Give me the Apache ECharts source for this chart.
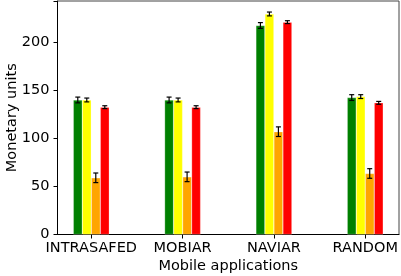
<!DOCTYPE html>
<html><head><meta charset="utf-8">
<script src="https://cdn.jsdelivr.net/npm/echarts@6/dist/echarts.min.js"></script>
<style>html,body{margin:0;padding:0;background:#fff}#c{width:401px;height:276px}</style>
</head><body><div id="c"></div>
<script>
const categories = ['INTRASAFED', 'MOBIAR', 'NAVIAR', 'RANDOM'];
const seriesNames = ['S1', 'S2', 'S3', 'S4'];
const colors = ['#008000', '#ffff00', '#ffa500', '#ff0000'];
const valuesS1 = [140, 140, 217.5, 142.5];
const valuesS2 = [140, 140, 229.5, 143.5];
const valuesS3 = [59, 60, 107, 63.5];
const valuesS4 = [132.5, 132.5, 221, 137];
const errS1 = [3, 3, 3, 3];
const errS2 = [2, 2, 2, 2];
const errS3 = [5, 5, 5, 5];
const errS4 = [1.5, 1.5, 1.5, 1.5];
const yTicks = [0, 50, 100, 150, 200];

const allValues = [valuesS1, valuesS2, valuesS3, valuesS4];
const allErr = [errS1, errS2, errS3, errS4];
const barW = 9;
const series = [];
allValues.forEach((vals, si) => {
  series.push({
    type: 'bar', name: seriesNames[si], barWidth: barW, barGap: '0%',
    itemStyle: { color: colors[si], borderColor: 'rgba(255,255,255,0.5)', borderWidth: 0.5 },
    data: vals.map((v, i) => [i, v]), z: 2
  });
});
allValues.forEach((vals, si) => {
  const off = (si - 1.5) * barW;
  series.push({
    type: 'custom', z: 5,
    data: vals.map((v, i) => [i, v, allErr[si][i]]),
    renderItem: function (params, api) {
      const x = api.value(0), y = api.value(1), e = api.value(2);
      const p1 = api.coord([x, y + e]);
      const p2 = api.coord([x, y - e]);
      const cx = p1[0] + off;
      const cap = 2.5;
      const st = { stroke: '#000', lineWidth: 1.2 };
      return { type: 'group', children: [
        { type: 'line', shape: { x1: cx, y1: p1[1], x2: cx, y2: p2[1] }, style: st },
        { type: 'line', shape: { x1: cx - cap, y1: p1[1], x2: cx + cap, y2: p1[1] }, style: st },
        { type: 'line', shape: { x1: cx - cap, y1: p2[1], x2: cx + cap, y2: p2[1] }, style: st }
      ]};
    }
  });
});

const chart = echarts.init(document.getElementById('c'));
chart.setOption({
  animation: false,
  grid: { left: 57.5, right: 2, top: 1, bottom: 41.5, show: true, borderColor: '#444', borderWidth: 1, containLabel: false, outerBoundsMode: 'none' },
  xAxis: {
    type: 'value', min: -0.37, max: 3.37,
    name: 'Mobile applications', nameLocation: 'middle', nameGap: 24, nameMoveOverlap: false,
    nameTextStyle: { fontFamily: 'DejaVu Sans', fontSize: 14.5, color: '#000' },
    axisLine: { show: true, onZero: false, lineStyle: { color: '#000' } },
    axisTick: { show: true, customValues: [0, 1, 2, 3], length: 4, lineStyle: { color: '#000' } },
    axisLabel: { customValues: [0, 1, 2, 3], formatter: v => categories[Math.round(v)], fontFamily: 'DejaVu Sans', fontSize: 14.5, color: '#000', margin: 6 },
    splitLine: { show: false }
  },
  yAxis: {
    type: 'value', min: 0, max: 243, interval: 50,
    name: 'Monetary units', nameLocation: 'middle', nameGap: 38, nameMoveOverlap: false,
    nameTextStyle: { fontFamily: 'DejaVu Sans', fontSize: 14.5, color: '#000' },
    axisLine: { show: true, onZero: false, lineStyle: { color: '#000' } },
    axisTick: { show: true, length: 4, lineStyle: { color: '#000' } },
    axisLabel: { customValues: yTicks, fontFamily: 'DejaVu Sans', fontSize: 14.5, color: '#000', margin: 8 },
    splitLine: { show: false }
  },
  series: series
});
</script></body></html>
